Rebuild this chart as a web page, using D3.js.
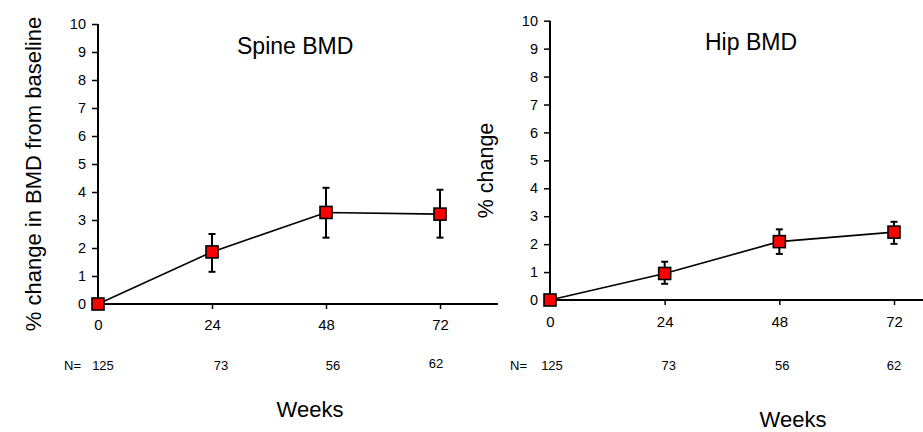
<!DOCTYPE html>
<html>
<head>
<meta charset="utf-8">
<script src="https://cdn.jsdelivr.net/npm/d3@7"></script>
<style>
  html, body { margin: 0; padding: 0; background: #fff; }
  svg { display: block; }
  text { font-family: "Liberation Sans", Arial, sans-serif; fill: #000; }
</style>
</head>
<body>
<svg id="chart" width="923" height="432"></svg>
<script>
// ---------- DATA ----------
const weeks = [0, 24, 48, 72];
const yTicks = [0, 1, 2, 3, 4, 5, 6, 7, 8, 9, 10];
const nCounts = [125, 73, 56, 62];

const spineMean = [0, 1.86, 3.27, 3.21];
const spineLow  = [0, 1.15, 2.37, 2.37];
const spineHigh = [0, 2.50, 4.15, 4.08];

const hipMean = [0, 0.95, 2.09, 2.43];
const hipLow  = [0, 0.58, 1.65, 2.01];
const hipHigh = [0, 1.37, 2.53, 2.80];

const titles = ["Spine BMD", "Hip BMD"];
const yLabels = ["% change in BMD from baseline", "% change"];
const xLabel = "Weeks";

// ---------- LAYOUT ----------
const panels = [
  { title: titles[0], ylabel: yLabels[0], ylabSize: 22, mean: spineMean, low: spineLow, high: spineHigh,
    x0: 98, x1: 440, axisEnd: 498, yTop: 24, yBot: 304,
    titleX: 237, titleY: 54, ylabX: 41, ylabY: 174,
    xlabX: 310, xlabY: 417, tickPad: 10,
    nLabX: 64, nY: 370, nDx: [5, 9, 7, -4], nDy: [0, 0, 0, -2] },
  { title: titles[1], ylabel: yLabels[1], ylabSize: 21.5, mean: hipMean, low: hipLow, high: hipHigh,
    x0: 550, x1: 894, axisEnd: 923, yTop: 20.7, yBot: 300,
    titleX: 705, titleY: 50, ylabX: 493, ylabY: 170.5,
    xlabX: 793, xlabY: 427, tickPad: 11,
    nLabX: 510, nY: 370, nDx: [2, 4, 3, 0], nDy: [0, 0, 0, 0] }
];

const svg = d3.select("#chart");

panels.forEach(p => {
  const x = d3.scaleLinear().domain([0, 72]).range([p.x0, p.x1]);
  const y = d3.scaleLinear().domain([0, 10]).range([p.yBot, p.yTop]);
  const g = svg.append("g");

  // Y axis
  const yAx = g.append("g").attr("transform", `translate(${p.x0},0)`)
    .call(d3.axisLeft(y).tickValues(yTicks).tickSize(6).tickPadding(6).tickSizeOuter(0));
  yAx.select(".domain").remove();
  yAx.selectAll("line").attr("stroke", "#000").attr("stroke-width", 1.5);
  yAx.selectAll("text").style("font-size", "14.5px").style("font-family", '"Liberation Sans", Arial, sans-serif').attr("fill", "#000");
  g.append("line").attr("x1", p.x0).attr("x2", p.x0).attr("y1", y(10)).attr("y2", y(0))
    .attr("stroke", "#000").attr("stroke-width", 2);

  // X axis
  const xAx = g.append("g").attr("transform", `translate(0,${p.yBot})`)
    .call(d3.axisBottom(x).tickValues(weeks).tickSize(5).tickPadding(p.tickPad).tickSizeOuter(0));
  xAx.select(".domain").remove();
  xAx.selectAll("line").attr("stroke", "#000").attr("stroke-width", 1.5);
  xAx.selectAll("text").style("font-size", "15px").style("font-family", '"Liberation Sans", Arial, sans-serif').attr("fill", "#000");
  g.append("line").attr("x1", p.x0).attr("x2", p.axisEnd).attr("y1", y(0)).attr("y2", y(0))
    .attr("stroke", "#000").attr("stroke-width", 2);

  // Line
  const line = d3.line().x((d, i) => x(weeks[i])).y(d => y(d));
  g.append("path").datum(p.mean).attr("d", line)
    .attr("fill", "none").attr("stroke", "#000").attr("stroke-width", 1.6);

  // Error bars
  const cap = 3.5;
  weeks.forEach((w, i) => {
    if (p.high[i] === p.low[i]) return;
    const cx = x(w);
    g.append("line").attr("x1", cx).attr("x2", cx).attr("y1", y(p.high[i])).attr("y2", y(p.low[i]))
      .attr("stroke", "#000").attr("stroke-width", 2);
    [p.high[i], p.low[i]].forEach(v => {
      g.append("line").attr("x1", cx - cap).attr("x2", cx + cap).attr("y1", y(v)).attr("y2", y(v))
        .attr("stroke", "#000").attr("stroke-width", 2);
    });
  });

  // Markers
  const s = 12;
  g.selectAll("rect.m").data(p.mean).enter().append("rect")
    .attr("x", (d, i) => x(weeks[i]) - s / 2).attr("y", d => y(d) - s / 2)
    .attr("width", s).attr("height", s)
    .attr("fill", "#ff0000").attr("stroke", "#000").attr("stroke-width", 1.6);

  // Title
  g.append("text").attr("x", p.titleX).attr("y", p.titleY)
    .style("font-size", "23px").text(p.title);

  // Y label
  g.append("text").attr("transform", `translate(${p.ylabX},${p.ylabY}) rotate(-90)`)
    .attr("text-anchor", "middle").style("font-size", p.ylabSize + "px").text(p.ylabel);

  // N row
  g.append("text").attr("x", p.nLabX).attr("y", p.nY).style("font-size", "13px").text("N=");
  nCounts.forEach((n, i) => {
    g.append("text").attr("x", x(weeks[i]) + p.nDx[i]).attr("y", p.nY + p.nDy[i])
      .attr("text-anchor", "middle").style("font-size", "13px").text(n);
  });

  // X label
  g.append("text").attr("x", p.xlabX).attr("y", p.xlabY).attr("text-anchor", "middle")
    .style("font-size", "22px").text(xLabel);
});
</script>
</body>
</html>
